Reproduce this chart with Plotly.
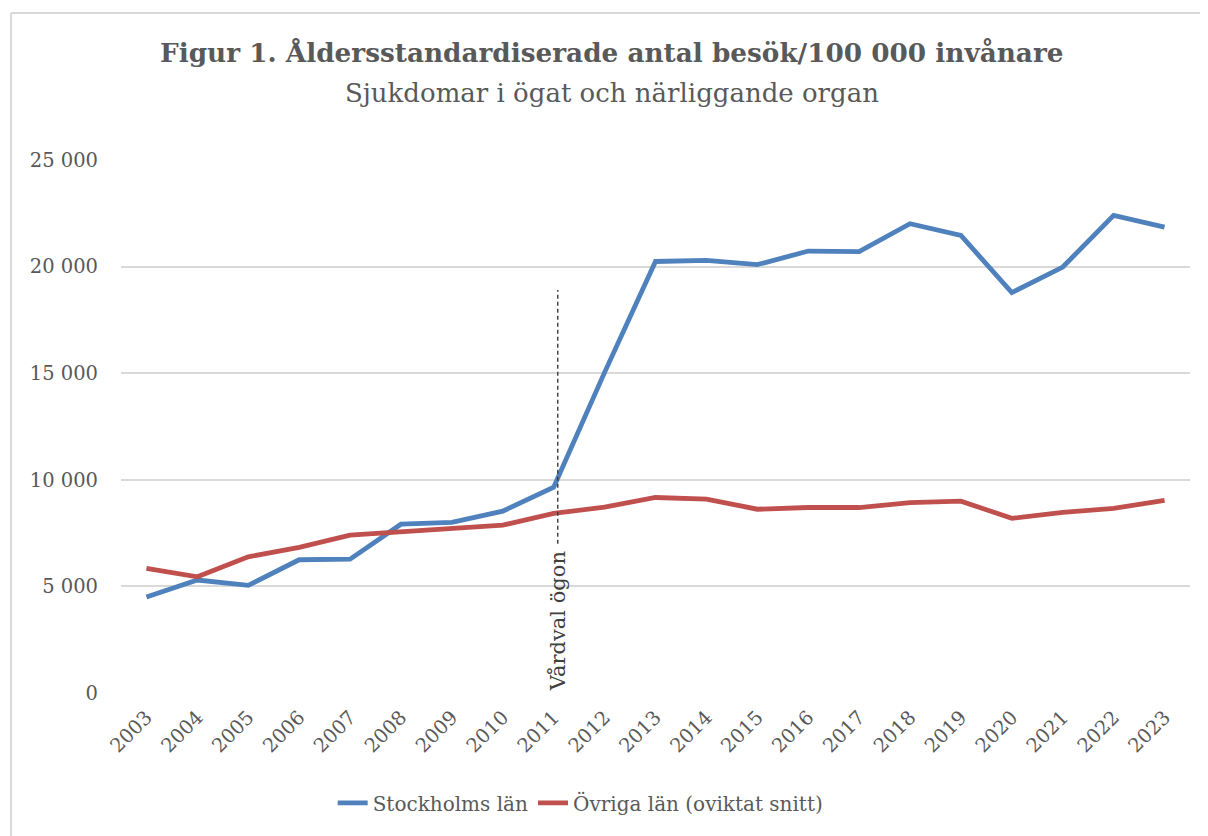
import plotly.graph_objects as go

years = list(range(2003, 2024))
stockholm = [4500, 5300, 5050, 6250, 6280, 7920, 8000, 8530, 9650, 15040, 20240,
             20290, 20090, 20730, 20700, 22010, 21460, 18780, 19980, 22400, 21850]
ovriga = [5840, 5450, 6390, 6830, 7400, 7560, 7670, 7870, 8420, 8720, 9170,
          9090, 8620, 8700, 8700, 8930, 9000, 8190, 8470, 8660, 9040]
y_ticks = [0, 5000, 10000, 15000, 20000, 25000]
y_tick_text = ["0", "5 000", "10 000", "15 000", "20 000", "25 000"]
reform_year = 2011
reform_label = "Vårdval ögon"

FONT = "DejaVu Serif"
GREY = "#595959"

fig = go.Figure()
fig.add_trace(go.Scatter(x=years, y=stockholm, mode="lines", name="Stockholms län",
                         line=dict(color="#4F81BD", width=4.8)))
fig.add_trace(go.Scatter(x=years, y=ovriga, mode="lines", name="Övriga län (oviktat snitt)",
                         line=dict(color="#C0504D", width=4.8)))

fig.add_shape(type="line", xref="x", yref="y", x0=reform_year + 0.08, x1=reform_year + 0.08,
              y0=7000, y1=18900, line=dict(color="#3a3a3a", width=1.4, dash="4px,3px"))
fig.add_annotation(x=reform_year + 0.08, y=3350, xref="x", yref="y", text=reform_label,
                   textangle=-90, showarrow=False, font=dict(family=FONT, size=21, color="#404040"))

# Title and subtitle
fig.add_annotation(x=0.459, y=1.2026, xref="paper", yref="paper", showarrow=False,
                   text="<b>Figur 1. Åldersstandardiserade antal besök/100 000 invånare</b>",
                   font=dict(family=FONT, size=26.3, color=GREY), yanchor="middle")
fig.add_annotation(x=0.459, y=1.1257, xref="paper", yref="paper", showarrow=False,
                   text="Sjukdomar i ögat och närliggande organ",
                   font=dict(family=FONT, size=26, color=GREY), yanchor="middle")

# Outer border (left and top)
fig.add_shape(type="line", xref="paper", yref="paper", x0=-0.1029, x1=-0.1029, y0=-0.35, y1=1.2758,
              line=dict(color="#d9d9d9", width=2))
fig.add_shape(type="line", xref="paper", yref="paper", x0=-0.1029, x1=1.05, y0=1.2758, y1=1.2758,
              line=dict(color="#d9d9d9", width=2))

fig.update_layout(
    width=1208, height=836,
    margin=dict(l=113, r=26, t=152, b=151),
    paper_bgcolor="white", plot_bgcolor="white",
    font=dict(family=FONT, color=GREY),
    showlegend=True,
    legend=dict(orientation="h", x=0.43, xanchor="center", y=-0.206, yanchor="middle",
                font=dict(family=FONT, size=20, color=GREY), itemwidth=30,
                traceorder="normal"),
    xaxis=dict(range=[2002.5, 2023.5], tickmode="array", tickvals=years,
               ticktext=[str(y) for y in years], tickangle=-45,
               tickfont=dict(family=FONT, size=19.5, color=GREY),
               showgrid=False, zeroline=False, showline=False, ticks="",
               ticklabelstandoff=8),
    yaxis=dict(range=[0, 25000], tickmode="array", tickvals=y_ticks, ticktext=y_tick_text,
               tickfont=dict(family=FONT, size=19.5, color=GREY),
               showgrid=True, gridcolor="#d9d9d9", gridwidth=1.5, zeroline=False,
               showline=False, ticks="", ticklabelstandoff=22),
)

fig.write_html("out.html")
